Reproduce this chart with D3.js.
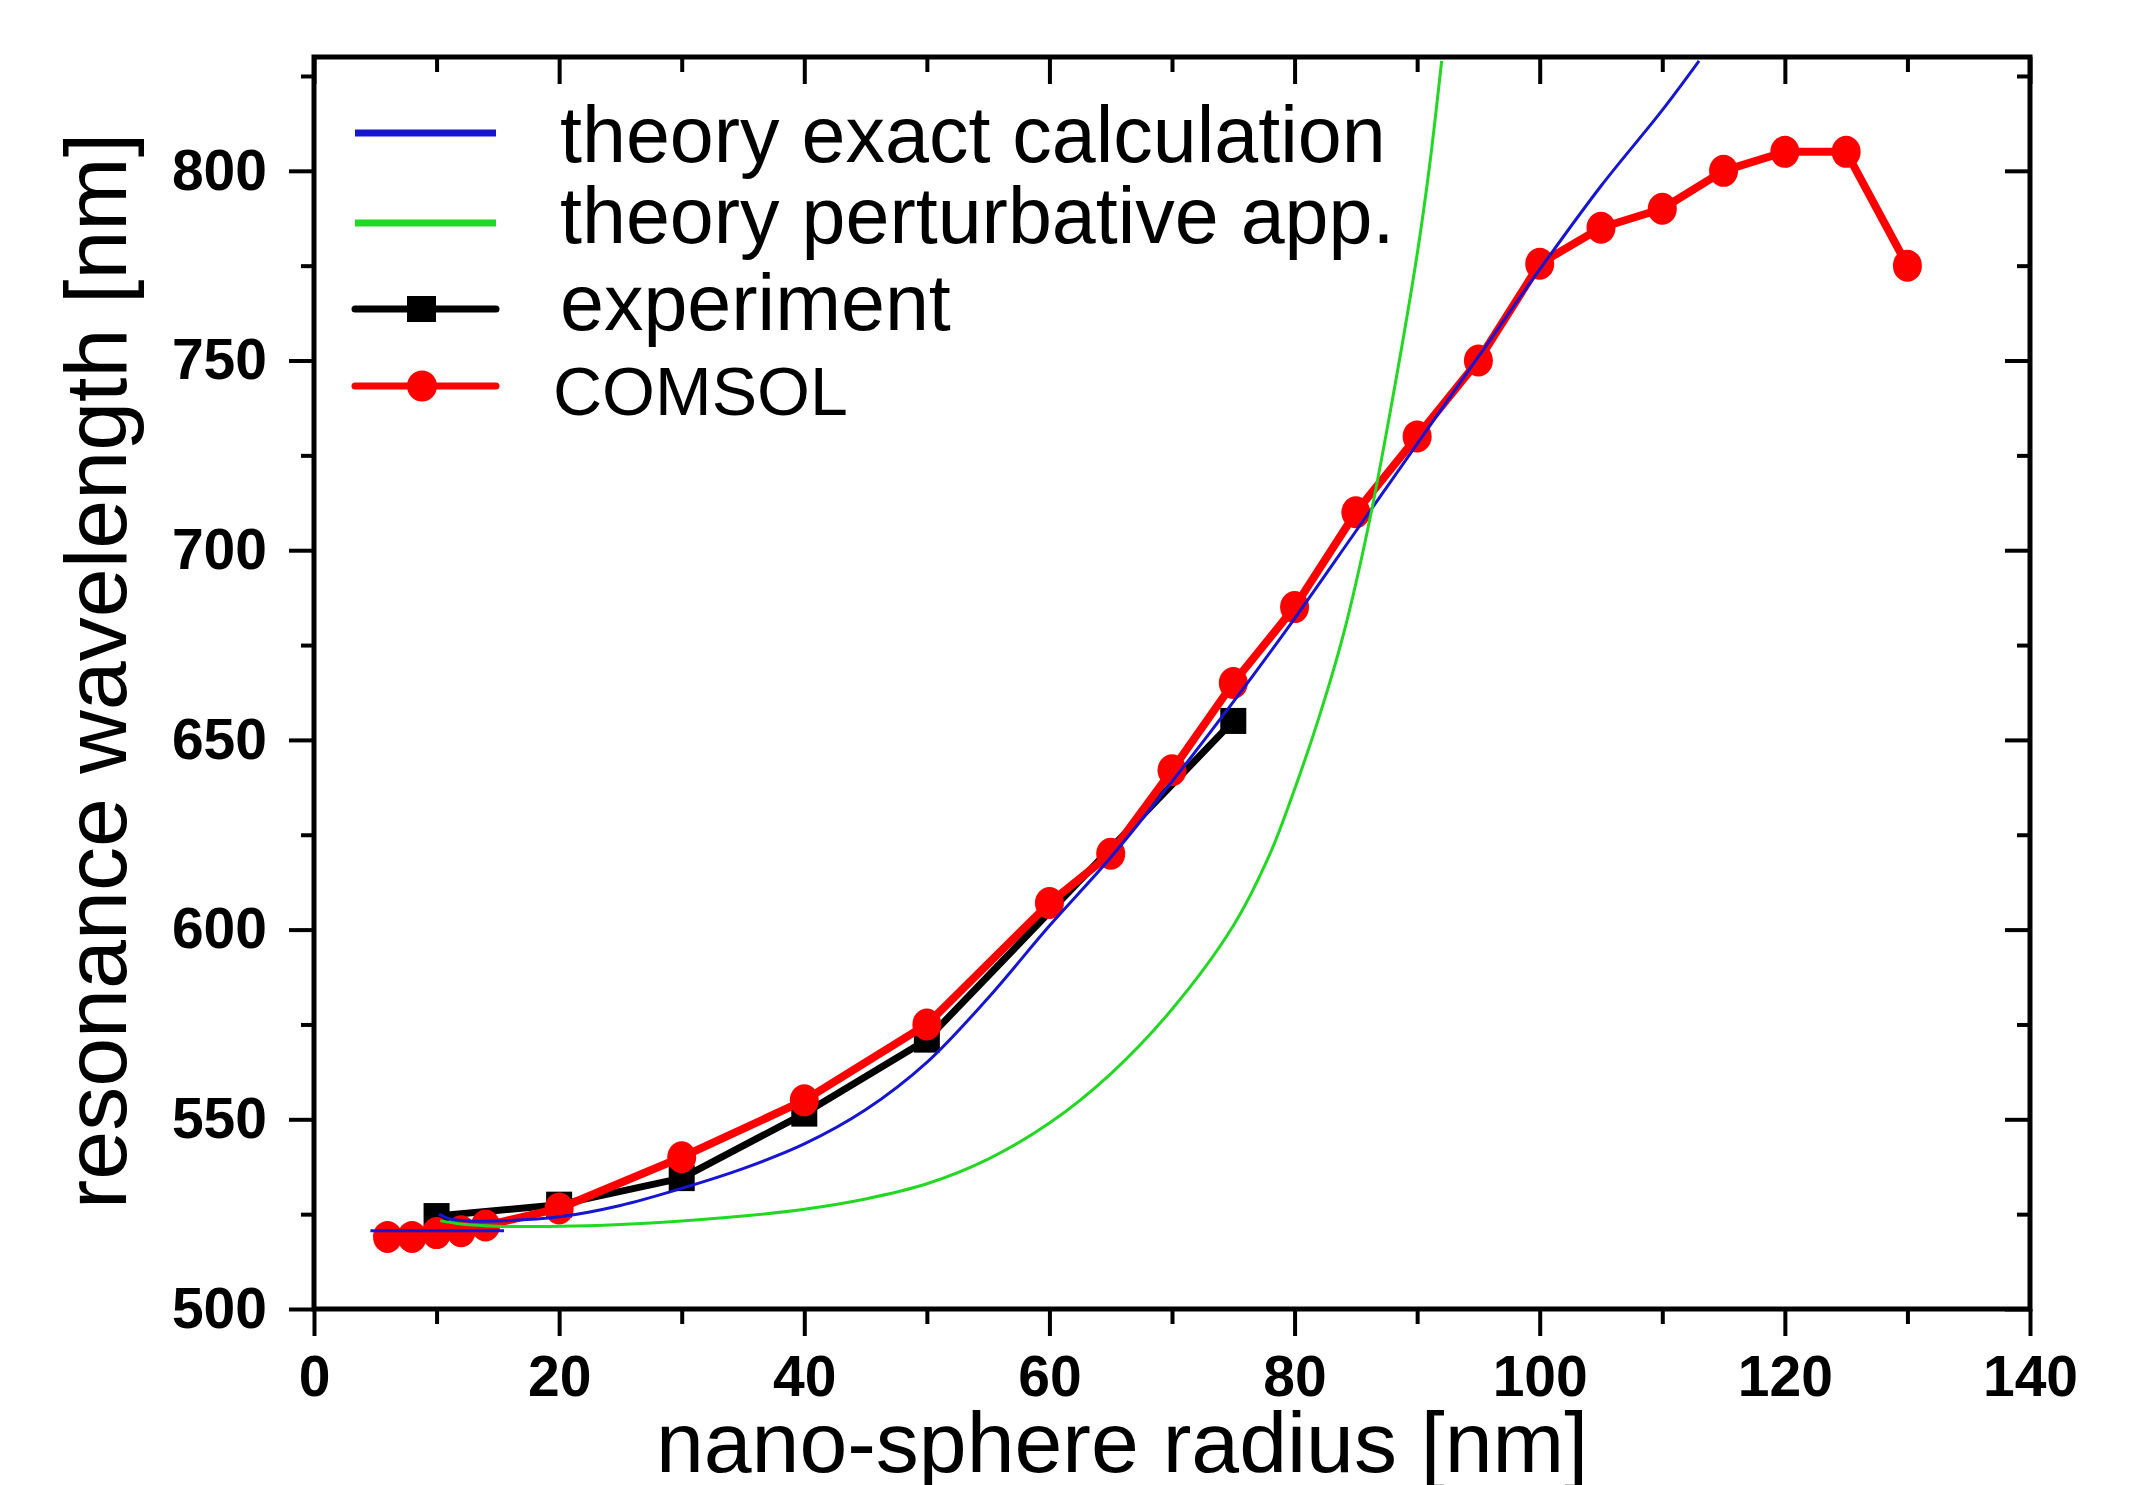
<!DOCTYPE html>
<html>
<head>
<meta charset="utf-8">
<script src="https://cdn.jsdelivr.net/npm/d3@7"></script>
<style>
  body { margin: 0; background: #fff; }
  svg { display: block; font-family: "Liberation Sans", Arial, sans-serif; }
</style>
</head>
<body>
<div id="chart"></div>
<script>
// COMSOL simulation (red circles)
const comsolX = [6, 8, 10, 12, 14, 20, 30, 40, 50, 60, 65, 70, 75, 80, 85, 90, 95, 100, 105, 110, 115, 120, 125, 130];
const comsolY = [519, 519, 520, 520.5, 522, 526.5, 540, 555, 575, 607, 620, 642, 665, 685, 710, 730, 750, 775.5, 785, 790, 800, 805, 805, 775];

// experiment (black squares)
const expX = [10, 20, 30, 40, 50, 75];
const expY = [524.5, 527.5, 534.5, 551.5, 571, 655];

// theory exact calculation (blue)
const exactX = [10.2, 11, 12.5, 15, 20, 25, 30, 35, 40, 45, 50, 55, 60, 65, 70, 75, 80, 85, 90, 95, 100, 105, 110, 113];
const exactY = [525, 523.8, 523.2, 523.2, 524.3, 527.3, 531.8, 537, 543.5, 552.5, 565, 582, 601, 619, 639, 660, 682, 705, 728, 751, 774, 796, 816, 829];
// short flat blue piece under the first COMSOL points
const exactLowX = [4.6, 15.5];
const exactLowY = [520.6, 520.6];

// theory perturbative approximation (green)
const pertX = [10.3, 12, 15, 20, 25, 30, 35, 40, 45, 50, 55, 60, 65, 70, 75, 78, 80, 82, 84, 86, 88, 90, 91, 92];
const pertY = [523.3, 522.4, 521.8, 521.8, 522.3, 523.2, 524.5, 526.3, 529, 533, 539.5, 549, 562, 579, 601, 620, 637, 656, 678, 706, 740, 778, 801, 829];

const xMajor = [0, 20, 40, 60, 80, 100, 120, 140];
const xMinor = [10, 30, 50, 70, 90, 110, 130];
const yMajor = [500, 550, 600, 650, 700, 750, 800];
const yMinor = [525, 575, 625, 675, 725, 775, 825];

const legendLabels = ["theory exact calculation", "theory perturbative app.", "experiment", "COMSOL"];

const width = 2133, height = 1485;
const margin = { left: 314, right: 2030, top: 57, bottom: 1309 };

const BLUE = "#1616d2", GREEN = "#22d822", RED = "#ff0000";

const svg = d3.select("#chart").append("svg")
  .attr("width", width)
  .attr("height", height);

svg.append("rect").attr("width", width).attr("height", height).attr("fill", "#fff");

const x = d3.scaleLinear().domain([0, 140]).range([margin.left, margin.right]);
const y = d3.scaleLinear().domain([500, 830]).range([margin.bottom, margin.top]);

svg.append("defs").append("clipPath").attr("id", "plot-clip")
  .append("rect")
  .attr("x", margin.left).attr("y", margin.top)
  .attr("width", margin.right - margin.left)
  .attr("height", margin.bottom - margin.top);

// axes: major and minor ticks, outward on bottom/left, inward on top/right
function styleAxis(g) {
  g.select(".domain").remove();
  g.selectAll(".tick line").attr("stroke", "#000").attr("stroke-width", 4);
}

svg.append("g").attr("transform", `translate(0,${margin.bottom})`)
  .call(d3.axisBottom(x).tickValues(xMajor).tickSize(27).tickPadding(20).tickFormat(d3.format("d")))
  .call(styleAxis)
  .call(g => g.selectAll("text")
    .attr("font-family", "Liberation Sans, Arial, sans-serif")
    .attr("font-weight", "bold").attr("font-size", 57).attr("fill", "#000"));
svg.append("g").attr("transform", `translate(0,${margin.bottom})`)
  .call(d3.axisBottom(x).tickValues(xMinor).tickSize(15).tickFormat(""))
  .call(styleAxis);

svg.append("g").attr("transform", `translate(0,${margin.top})`)
  .call(d3.axisTop(x).tickValues(xMajor).tickSize(-27).tickFormat(""))
  .call(styleAxis);
svg.append("g").attr("transform", `translate(0,${margin.top})`)
  .call(d3.axisTop(x).tickValues(xMinor).tickSize(-15).tickFormat(""))
  .call(styleAxis);

svg.append("g").attr("transform", `translate(${margin.left},0)`)
  .call(d3.axisLeft(y).tickValues(yMajor).tickSize(25).tickPadding(22).tickFormat(d3.format("d")))
  .call(styleAxis)
  .call(g => g.selectAll("text")
    .attr("font-family", "Liberation Sans, Arial, sans-serif")
    .attr("font-weight", "bold").attr("font-size", 57).attr("fill", "#000"));
svg.append("g").attr("transform", `translate(${margin.left},0)`)
  .call(d3.axisLeft(y).tickValues(yMinor).tickSize(13).tickFormat(""))
  .call(styleAxis);

svg.append("g").attr("transform", `translate(${margin.right},0)`)
  .call(d3.axisRight(y).tickValues(yMajor).tickSize(-25).tickFormat(""))
  .call(styleAxis);
svg.append("g").attr("transform", `translate(${margin.right},0)`)
  .call(d3.axisRight(y).tickValues(yMinor).tickSize(-13).tickFormat(""))
  .call(styleAxis);

// frame
svg.append("rect")
  .attr("x", margin.left).attr("y", margin.top)
  .attr("width", margin.right - margin.left)
  .attr("height", margin.bottom - margin.top)
  .attr("fill", "none").attr("stroke", "#000").attr("stroke-width", 5);

const zip = (xs, ys) => xs.map((v, i) => [v, ys[i]]);
const plot = svg.append("g").attr("clip-path", "url(#plot-clip)");

const straight = d3.line().x(d => x(d[0])).y(d => y(d[1]));
const smooth = d3.line().x(d => x(d[0])).y(d => y(d[1])).curve(d3.curveCatmullRom.alpha(0.5));

// experiment
const expData = zip(expX, expY);
plot.append("path").datum(expData)
  .attr("d", straight).attr("fill", "none")
  .attr("stroke", "#000").attr("stroke-width", 7).attr("stroke-linejoin", "round");
plot.selectAll("rect.exp").data(expData).join("rect")
  .attr("class", "exp")
  .attr("x", d => x(d[0]) - 13).attr("y", d => y(d[1]) - 13)
  .attr("width", 26).attr("height", 26).attr("fill", "#000");

// COMSOL
const comsolData = zip(comsolX, comsolY);
plot.append("path").datum(comsolData)
  .attr("d", straight).attr("fill", "none")
  .attr("stroke", RED).attr("stroke-width", 8).attr("stroke-linejoin", "round");
plot.selectAll("ellipse.comsol").data(comsolData).join("ellipse")
  .attr("class", "comsol")
  .attr("cx", d => x(d[0])).attr("cy", d => y(d[1]))
  .attr("rx", 14.5).attr("ry", 16).attr("fill", RED);

// theory curves
plot.append("path").datum(zip(exactLowX, exactLowY))
  .attr("d", straight).attr("fill", "none").attr("stroke", BLUE).attr("stroke-width", 3);
plot.append("path").datum(zip(exactX, exactY))
  .attr("d", smooth).attr("fill", "none").attr("stroke", BLUE).attr("stroke-width", 3);
plot.append("path").datum(zip(pertX, pertY))
  .attr("d", smooth).attr("fill", "none").attr("stroke", GREEN).attr("stroke-width", 3);

// legend
const legend = svg.append("g");
const lineYs = [133, 223, 309, 386];
const textYs = [162, 243, 330, 415];
const lineColors = [BLUE, GREEN, "#000", RED];
lineColors.forEach((c, i) => {
  legend.append("line")
    .attr("x1", 355).attr("x2", 496)
    .attr("y1", lineYs[i]).attr("y2", lineYs[i])
    .attr("stroke", c).attr("stroke-width", 7)
    .attr("stroke-linecap", i >= 2 ? "round" : "butt");
});
legend.append("rect").attr("x", 407).attr("y", 309 - 13).attr("width", 29).attr("height", 26).attr("fill", "#000");
legend.append("ellipse").attr("cx", 422).attr("cy", 386).attr("rx", 15).attr("ry", 15.5).attr("fill", RED);

legend.selectAll("text").data(legendLabels).join("text")
  .attr("x", (d, i) => i === 3 ? 553 : 560)
  .attr("y", (d, i) => textYs[i])
  .attr("font-size", (d, i) => i === 3 ? 68 : 79)
  .attr("fill", "#000")
  .text(d => d);

// axis titles
svg.append("text")
  .attr("x", 1122).attr("y", 1472)
  .attr("text-anchor", "middle")
  .attr("font-size", 86)
  .text("nano-sphere radius [nm]");

svg.append("text")
  .attr("transform", "translate(126,671) rotate(-90)")
  .attr("text-anchor", "middle")
  .attr("font-size", 88)
  .text("resonance wavelength [nm]");
</script>
</body>
</html>
